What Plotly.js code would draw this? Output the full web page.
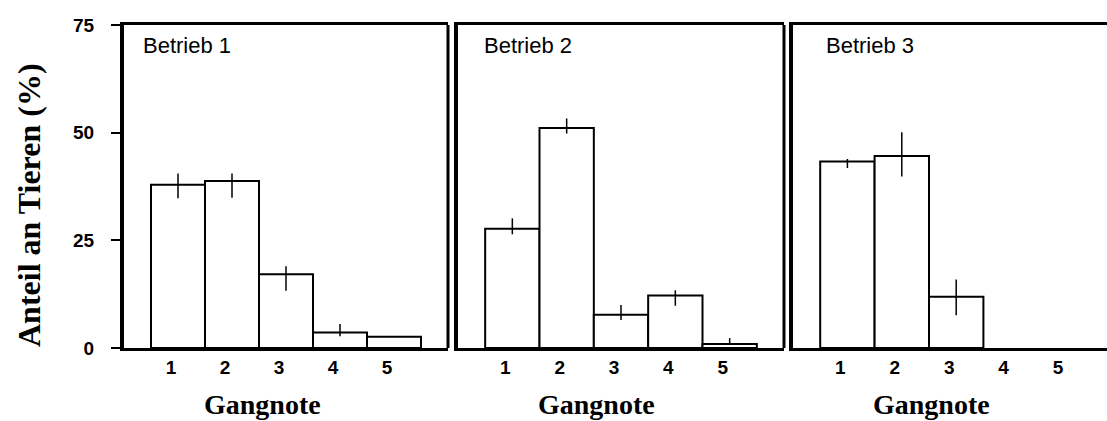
<!DOCTYPE html>
<html>
<head>
<meta charset="utf-8">
<script src="https://cdn.plot.ly/plotly-3.0.1.min.js"></script>
<style>html,body{margin:0;padding:0;background:#fff;}#chart{width:1107px;height:421px;}</style>
</head>
<body>
<div id="chart"></div>
<script>
// Data
const gangnoten = [1, 2, 3, 4, 5];
const gangLabels = ['1', '2', '3', '4', '5'];
const betriebNames = ['Betrieb 1', 'Betrieb 2', 'Betrieb 3'];

const betrieb1 = [37.9, 38.8, 17.1, 3.6, 2.6];
const betrieb1Plus = [2.6, 1.7, 1.9, 2.0, 0];
const betrieb1Minus = [3.1, 3.9, 3.8, 0.9, 0];

const betrieb2 = [27.7, 51.1, 7.7, 12.2, 0.9];
const betrieb2Plus = [2.4, 2.2, 2.3, 1.2, 1.4];
const betrieb2Minus = [1.3, 1.3, 1.2, 2.4, 0];

const betrieb3 = [43.3, 44.6, 11.9, null, null];
const betrieb3Plus = [0.6, 5.5, 4.0, 0, 0];
const betrieb3Minus = [1.5, 4.8, 4.3, 0, 0];

const yTicks = [0, 25, 50, 75];
const xTitle = 'Gangnote';
const yTitle = 'Anteil an Tieren (%)';

const W = 1107, H = 421;
const px = v => v / W;
const py = v => 1 - v / H;

function barTrace(vals, plus, minus, xa, ya) {
  return {
    type: 'bar', x: gangnoten, y: vals, xaxis: xa, yaxis: ya,
    width: 1,
    marker: {color: '#ffffff', line: {color: '#000000', width: 2}},
    error_y: {type: 'data', symmetric: false, array: plus, arrayminus: minus,
              width: 0, thickness: 1.5, color: '#000000'},
    hoverinfo: 'skip'
  };
}

const data = [
  barTrace(betrieb1, betrieb1Plus, betrieb1Minus, 'x', 'y'),
  barTrace(betrieb2, betrieb2Plus, betrieb2Minus, 'x2', 'y2'),
  barTrace(betrieb3, betrieb3Plus, betrieb3Minus, 'x3', 'y3')
];

const tickFont = {family: 'Liberation Sans, Arial, sans-serif', size: 19, color: '#000', weight: 'bold'};
const yDom = [1 - 348 / H, 1 - 25 / H];

function xAxis(dom, range) {
  return {
    domain: dom, range: range, tickvals: gangnoten, ticktext: gangLabels,
    ticks: '', showgrid: false, zeroline: false,
    showline: true, mirror: true, linewidth: 3, linecolor: '#000',
    tickfont: tickFont, ticklabelshift: -7, ticklabelstandoff: 0,
    fixedrange: true
  };
}
function yAxis(anchor, showLabels) {
  return {
    anchor: anchor, domain: yDom, range: [0, 75], tickvals: yTicks,
    ticks: showLabels ? 'outside' : '', ticklen: 9, tickwidth: 2, tickcolor: '#000',
    showticklabels: showLabels, tickfont: tickFont, ticklabelstandoff: 13,
    showgrid: false, zeroline: false,
    showline: true, linewidth: 4, linecolor: '#000', fixedrange: true
  };
}

const layout = {
  width: W, height: H,
  margin: {l: 0, r: 0, t: 0, b: 0},
  paper_bgcolor: '#fff', plot_bgcolor: '#fff',
  showlegend: false, bargap: 0,
  xaxis: xAxis([px(124), px(448)], [0, 6]),
  xaxis2: xAxis([px(458), px(784)], [0, 6]),
  xaxis3: xAxis([px(793), 1], [0, (W - 793) / 54.4]),
  yaxis: yAxis('x', true),
  yaxis2: yAxis('x2', false),
  yaxis3: yAxis('x3', false),
  shapes: [
    {type: 'line', xref: 'x domain', yref: 'y domain', x0: 1, x1: 1, y0: 0, y1: 1, line: {color: '#000', width: 3}},
    {type: 'line', xref: 'x2 domain', yref: 'y2 domain', x0: 1, x1: 1, y0: 0, y1: 1, line: {color: '#000', width: 3}}
  ],
  annotations: [
    {text: betriebNames[0], xref: 'paper', yref: 'paper', x: px(141), y: py(45), xanchor: 'left', yanchor: 'middle', showarrow: false,
     font: {family: 'Liberation Sans, Arial, sans-serif', size: 22, color: '#000'}},
    {text: betriebNames[1], xref: 'paper', yref: 'paper', x: px(482), y: py(45), xanchor: 'left', yanchor: 'middle', showarrow: false,
     font: {family: 'Liberation Sans, Arial, sans-serif', size: 22, color: '#000'}},
    {text: betriebNames[2], xref: 'paper', yref: 'paper', x: px(824), y: py(45), xanchor: 'left', yanchor: 'middle', showarrow: false,
     font: {family: 'Liberation Sans, Arial, sans-serif', size: 22, color: '#000'}},
    {text: xTitle, xref: 'paper', yref: 'paper', x: px(262), y: py(404), xanchor: 'center', yanchor: 'middle', showarrow: false,
     font: {family: 'Liberation Serif, Times New Roman, serif', size: 28, color: '#000', weight: 'bold'}},
    {text: xTitle, xref: 'paper', yref: 'paper', x: px(596), y: py(404), xanchor: 'center', yanchor: 'middle', showarrow: false,
     font: {family: 'Liberation Serif, Times New Roman, serif', size: 28, color: '#000', weight: 'bold'}},
    {text: xTitle, xref: 'paper', yref: 'paper', x: px(931), y: py(404), xanchor: 'center', yanchor: 'middle', showarrow: false,
     font: {family: 'Liberation Serif, Times New Roman, serif', size: 28, color: '#000', weight: 'bold'}},
    {text: yTitle, xref: 'paper', yref: 'paper', x: px(29), y: py(205), xanchor: 'center', yanchor: 'middle', textangle: -90, showarrow: false,
     font: {family: 'Liberation Serif, Times New Roman, serif', size: 32, color: '#000', weight: 'bold'}}
  ]
};

Plotly.newPlot('chart', data, layout, {displayModeBar: false, staticPlot: true});
</script>
</body>
</html>
